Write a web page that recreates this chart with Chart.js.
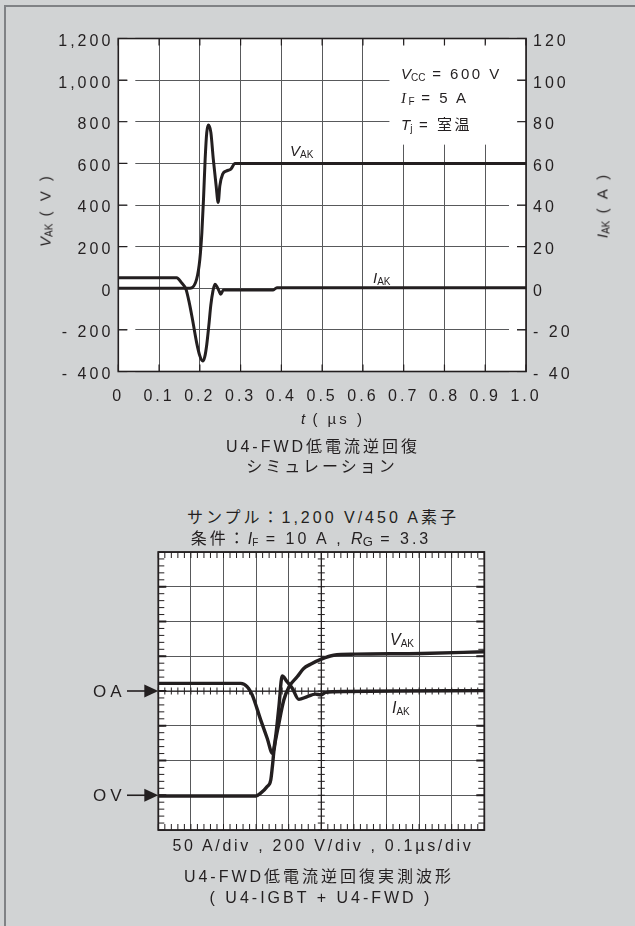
<!DOCTYPE html>
<html>
<head>
<meta charset="utf-8">
<script src="https://cdn.jsdelivr.net/npm/chart.js@4.4.1/dist/chart.umd.min.js"></script>
<style>
  html, body { margin: 0; padding: 0; }
  body {
    width: 635px; height: 926px; position: relative; overflow: hidden;
    background: #d1d3d4; color: #231f20;
    font-family: "Liberation Sans", "Noto Sans CJK JP", sans-serif;
  }
  #edge { position: absolute; left: 4px; top: 5px; right: -10px; bottom: -10px;
    border-top: 2px solid #808285; border-left: 2px solid #808285; }
  canvas { position: absolute; left: 0; }
  #sim { top: 0; }
  #scope { top: 540px; }
  .t { position: absolute; white-space: nowrap; line-height: 1; font-size: 16px;
    letter-spacing: 3px; transform: translate(-50%, -50%); }
  .l { position: absolute; white-space: nowrap; line-height: 1; font-size: 15px;
    letter-spacing: 2.5px; }
  .rot { transform: translate(-50%, -50%) rotate(-90deg); font-size: 15px; }
  .s { font-size: 10px; letter-spacing: 0; vertical-align: -2px; font-style: normal; }
  .serif { font-family: "Liberation Serif", serif; font-style: italic; }
  i { letter-spacing: 0; }
</style>
</head>
<body>
<div id="edge"></div>
<canvas id="sim" width="635" height="410"></canvas>
<canvas id="scope" width="635" height="300"></canvas>

<!-- simulation chart texts -->
<div class="t rot" style="left:46px;top:210px"><i>V</i><span class="s">AK</span> ( V )</div>
<div class="t rot" style="left:603px;top:205px"><i>I</i><span class="s">AK</span> ( A )</div>
<div class="t" style="left:333px;top:418px;font-size:15px"><i>t</i> ( µs )</div>
<div class="l" style="left:401px;top:66px"><i>V</i><span class="s">CC</span> = 600 V</div>
<div class="l" style="left:401px;top:90px"><span class="serif">I</span><span class="s">F</span> = 5 A</div>
<div class="l" style="left:401px;top:117px"><i>T</i><span class="s">j</span> = 室温</div>
<div class="l" style="left:290px;top:143px"><i>V</i><span class="s">AK</span></div>
<div class="l" style="left:373px;top:270px"><i>I</i><span class="s">AK</span></div>
<div class="t" style="left:323px;top:447px">U4-FWD低電流逆回復</div>
<div class="t" style="left:322px;top:467px">シミュレーション</div>

<!-- measured waveform texts -->
<div class="t" style="left:323px;top:518px">サンプル：1,200 V/450 A素子</div>
<div class="t" style="left:311px;top:539px">条件：<i>I</i><span class="s">F</span> = 10 A , <i>R</i><span class="s" style="font-size:13px">G</span> = 3.3</div>
<div class="l" style="left:390px;top:632px;font-size:16px"><i>V</i><span class="s">AK</span></div>
<div class="l" style="left:392px;top:700px;font-size:16px"><i>I</i><span class="s">AK</span></div>
<div class="t" style="left:323px;top:846px;letter-spacing:2.7px">50 A/div , 200 V/div , 0.1µs/div</div>
<div class="t" style="left:319px;top:877px">U4-FWD低電流逆回復実測波形</div>
<div class="t" style="left:321px;top:898px">( U4-IGBT + U4-FWD )</div>

<script>
// simulation: V_AK (V) and I_AK (A) against t (us)
const simVakT = [0, 0.176, 0.192, 0.200, 0.205, 0.209, 0.213, 0.217, 0.221, 0.227, 0.233, 0.240, 0.245, 0.249, 0.256, 0.266, 0.276, 0.286, 1.0];
const simVakV = [0, 0, 43, 139, 268, 428, 620, 749, 784, 749, 620, 492, 412, 492, 548, 564, 572, 600, 600];
const simIakT = [0, 0.143, 0.155, 0.166, 0.174, 0.182, 0.192, 0.200, 0.207, 0.212, 0.217, 0.222, 0.227, 0.232, 0.237, 0.241, 0.247, 0.251, 0.258, 0.380, 0.389, 1.0];
const simIakA = [5.1, 5.1, 2.7, -0.5, -6.9, -15, -26, -32.5, -35, -33, -27, -18, -8, -1.5, 1.9, 1.1, -1.3, -2.9, -0.8, -0.8, 0.3, 0.3];

const tTickLabels = ['0', '0.1', '0.2', '0.3', '0.4', '0.5', '0.6', '0.7', '0.8', '0.9', '1.0'];
const vTickLabels = ['- 400', '- 200', '0', '200', '400', '600', '800', '1,000', '1,200'];
const aTickLabels = ['- 40', '- 20', '0', '20', '40', '60', '80', '100', '120'];

// measured waveform, in scope divisions (x: 0..10, y: -4..4, 0A at 0, 0V at -3)
const scopeIakX = [0, 2.53, 2.73, 2.88, 3.14, 3.34, 3.50, 3.60, 3.70, 3.80, 3.95, 4.11, 4.31, 4.57, 4.82, 4.99, 5.13, 5.38, 10];
const scopeIakY = [0.22, 0.22, 0.12, -0.11, -0.83, -1.36, -1.79, -1.31, -0.45, 0.43, 0.27, 0.08, -0.24, -0.16, -0.09, -0.11, -0.04, -0.02, 0.01];
const scopeVakX = [0, 2.99, 3.14, 3.34, 3.45, 3.50, 3.55, 3.70, 3.85, 4.01, 4.26, 4.46, 4.67, 4.98, 5.38, 6.05, 8.08, 10];
const scopeVakY = [-3.02, -3.02, -2.94, -2.75, -2.56, -2.17, -1.70, -0.93, -0.26, 0.12, 0.41, 0.65, 0.77, 0.91, 1.03, 1.06, 1.08, 1.13];
const zeroMarks = [{ label: 'OA', div: 0 }, { label: 'OV', div: -3 }];

const ink = '#231f20';
const tickFont = { family: 'Liberation Sans', size: 16 };

function pts(xs, ys) {
  return xs.map((x, i) => ({ x: x, y: ys[i] }));
}

function fixWidth(w) {
  return function (s) { s.width = w; };
}

const spacing = {
  id: 'spacing',
  beforeLayout(chart, args, opts) { chart.ctx.letterSpacing = opts.px + 'px'; },
  beforeDraw(chart, args, opts) { chart.ctx.letterSpacing = opts.px + 'px'; }
};

const simDecor = {
  id: 'simDecor',
  beforeDraw(chart) {
    const a = chart.chartArea, ctx = chart.ctx;
    ctx.save();
    ctx.fillStyle = '#fff';
    ctx.fillRect(a.left, a.top, a.right - a.left, a.bottom - a.top);
    ctx.restore();
  },
  beforeDatasetsDraw(chart) {
    const a = chart.chartArea, ctx = chart.ctx;
    const x = chart.scales.x, y = chart.scales.y;
    ctx.save();
    ctx.fillStyle = '#fff';
    // little gaps between edge ticks and grid lines
    y.ticks.forEach(t => {
      const py = y.getPixelForValue(t.value);
      ctx.fillRect(a.left + 9, py - 1, 8, 2);
      ctx.fillRect(a.right - 17, py - 1, 8, 2);
    });
    // box behind the conditions text
    const bx0 = x.getPixelForValue(0.665), bx1 = x.getPixelForValue(0.98);
    const by0 = y.getPixelForValue(1175), by1 = y.getPixelForValue(690);
    ctx.fillRect(bx0, by0, bx1 - bx0, by1 - by0);
    // inner ticks
    ctx.strokeStyle = ink;
    ctx.lineWidth = 1.2;
    ctx.beginPath();
    x.ticks.forEach(t => {
      const px = x.getPixelForValue(t.value);
      ctx.moveTo(px, a.top); ctx.lineTo(px, a.top + 7);
      ctx.moveTo(px, a.bottom); ctx.lineTo(px, a.bottom - 7);
    });
    y.ticks.forEach(t => {
      const py = y.getPixelForValue(t.value);
      ctx.moveTo(a.left, py); ctx.lineTo(a.left + 9, py);
      ctx.moveTo(a.right, py); ctx.lineTo(a.right - 9, py);
    });
    ctx.stroke();
    ctx.lineWidth = 1.6;
    ctx.strokeRect(a.left, a.top, a.right - a.left, a.bottom - a.top);
    ctx.restore();
  }
};

function lineSet(data, axis, width) {
  return {
    data: data, yAxisID: axis, borderColor: ink, borderWidth: width,
    pointRadius: 0, fill: false, cubicInterpolationMode: 'monotone'
  };
}

new Chart(document.getElementById('sim'), {
  type: 'line',
  data: {
    datasets: [
      lineSet(pts(simIakT, simIakA), 'y2', 3),
      lineSet(pts(simVakT, simVakV), 'y', 3)
    ]
  },
  options: {
    responsive: false,
    animation: false,
    layout: { padding: { top: 38.5, left: 0, right: 0, bottom: 0 } },
    plugins: { legend: { display: false }, tooltip: { enabled: false }, spacing: { px: 3 } },
    scales: {
      x: {
        type: 'linear', min: 0, max: 1,
        afterFit(s) { s.height = 38.5; },
        ticks: { stepSize: 0.1, autoSkip: false, maxRotation: 0, padding: 15, font: tickFont, color: ink,
          callback: (v, i) => tTickLabels[i] },
        grid: { color: '#58595b', lineWidth: 1, drawTicks: false },
        border: { display: false }
      },
      y: {
        position: 'left', min: -400, max: 1200,
        afterFit: fixWidth(118.3),
        ticks: { stepSize: 200, padding: 5, labelOffset: 3, font: tickFont, color: ink,
          callback: (v, i) => vTickLabels[i] },
        grid: { color: '#58595b', lineWidth: 1, drawTicks: false },
        border: { display: false }
      },
      y2: {
        position: 'right', min: -40, max: 120,
        afterFit: fixWidth(109),
        ticks: { stepSize: 20, padding: 7, labelOffset: 3, font: tickFont, color: ink,
          callback: (v, i) => aTickLabels[i] },
        grid: { drawOnChartArea: false, drawTicks: false },
        border: { display: false }
      }
    }
  },
  plugins: [spacing, simDecor]
});

const scopeDecor = {
  id: 'scopeDecor',
  beforeDraw(chart) {
    const a = chart.chartArea, ctx = chart.ctx;
    ctx.save();
    ctx.fillStyle = '#fff';
    ctx.fillRect(a.left, a.top, a.right - a.left, a.bottom - a.top);
    ctx.restore();
  },
  beforeDatasetsDraw(chart) {
    const a = chart.chartArea, ctx = chart.ctx;
    const x = chart.scales.x, y = chart.scales.y;
    const cx = x.getPixelForValue(5), cy = y.getPixelForValue(0);
    ctx.save();
    ctx.strokeStyle = ink;
    // centre cross
    ctx.lineWidth = 1.2;
    ctx.beginPath();
    ctx.moveTo(a.left, cy); ctx.lineTo(a.right, cy);
    ctx.moveTo(cx, a.top); ctx.lineTo(cx, a.bottom);
    ctx.stroke();
    // minor ticks, 5 per division
    ctx.lineWidth = 1;
    ctx.beginPath();
    for (let k = 0; k <= 50; k++) {
      const px = x.getPixelForValue(k / 5);
      ctx.moveTo(px, a.top); ctx.lineTo(px, a.top + 6);
      ctx.moveTo(px, a.bottom); ctx.lineTo(px, a.bottom - 6);
      ctx.moveTo(px, cy - 3.5); ctx.lineTo(px, cy + 3.5);
    }
    for (let k = -20; k <= 20; k++) {
      const py = y.getPixelForValue(k / 5);
      ctx.moveTo(a.left, py); ctx.lineTo(a.left + 6, py);
      ctx.moveTo(a.right, py); ctx.lineTo(a.right - 6, py);
      ctx.moveTo(cx - 3.5, py); ctx.lineTo(cx + 3.5, py);
    }
    ctx.stroke();
    // heavier marks at major divisions on the frame
    ctx.lineWidth = 2.2;
    ctx.beginPath();
    for (let k = -3; k <= 3; k++) {
      const py = y.getPixelForValue(k);
      ctx.moveTo(a.left, py); ctx.lineTo(a.left + 8, py);
      ctx.moveTo(a.right, py); ctx.lineTo(a.right - 8, py);
    }
    ctx.stroke();
    ctx.lineWidth = 1.8;
    ctx.strokeRect(a.left, a.top, a.right - a.left, a.bottom - a.top);
    // zero markers with arrows
    ctx.fillStyle = ink;
    ctx.font = '17px "Liberation Sans"';
    ctx.letterSpacing = '4px';
    ctx.textBaseline = 'middle';
    ctx.textAlign = 'left';
    zeroMarks.forEach(m => {
      const py = y.getPixelForValue(m.div);
      ctx.fillText(m.label, 93, py + 1);
      ctx.lineWidth = 1.6;
      ctx.beginPath();
      ctx.moveTo(127, py); ctx.lineTo(146, py);
      ctx.stroke();
      ctx.beginPath();
      ctx.moveTo(a.left, py); ctx.lineTo(a.left - 14, py - 6.5); ctx.lineTo(a.left - 14, py + 6.5);
      ctx.closePath();
      ctx.fill();
    });
    ctx.restore();
  }
};

new Chart(document.getElementById('scope'), {
  type: 'line',
  data: {
    datasets: [
      lineSet(pts(scopeIakX, scopeIakY), 'y', 3.4),
      lineSet(pts(scopeVakX, scopeVakY), 'y', 3.4)
    ]
  },
  options: {
    responsive: false,
    animation: false,
    layout: { padding: { top: 12, left: 158.3, right: 150.7, bottom: 10 } },
    plugins: { legend: { display: false }, tooltip: { enabled: false } },
    scales: {
      x: {
        type: 'linear', min: 0, max: 10,
        afterFit(s) { s.height = 0; },
        ticks: { display: false, stepSize: 1 },
        grid: { color: '#58595b', lineWidth: 1, drawTicks: false, borderDash: [1, 2.5] },
        border: { display: false }
      },
      y: {
        min: -4, max: 4,
        afterFit: fixWidth(0),
        ticks: { display: false, stepSize: 1 },
        grid: { color: '#58595b', lineWidth: 1, drawTicks: false, borderDash: [1, 2.5] },
        border: { display: false }
      }
    }
  },
  plugins: [scopeDecor]
});
</script>
</body>
</html>
